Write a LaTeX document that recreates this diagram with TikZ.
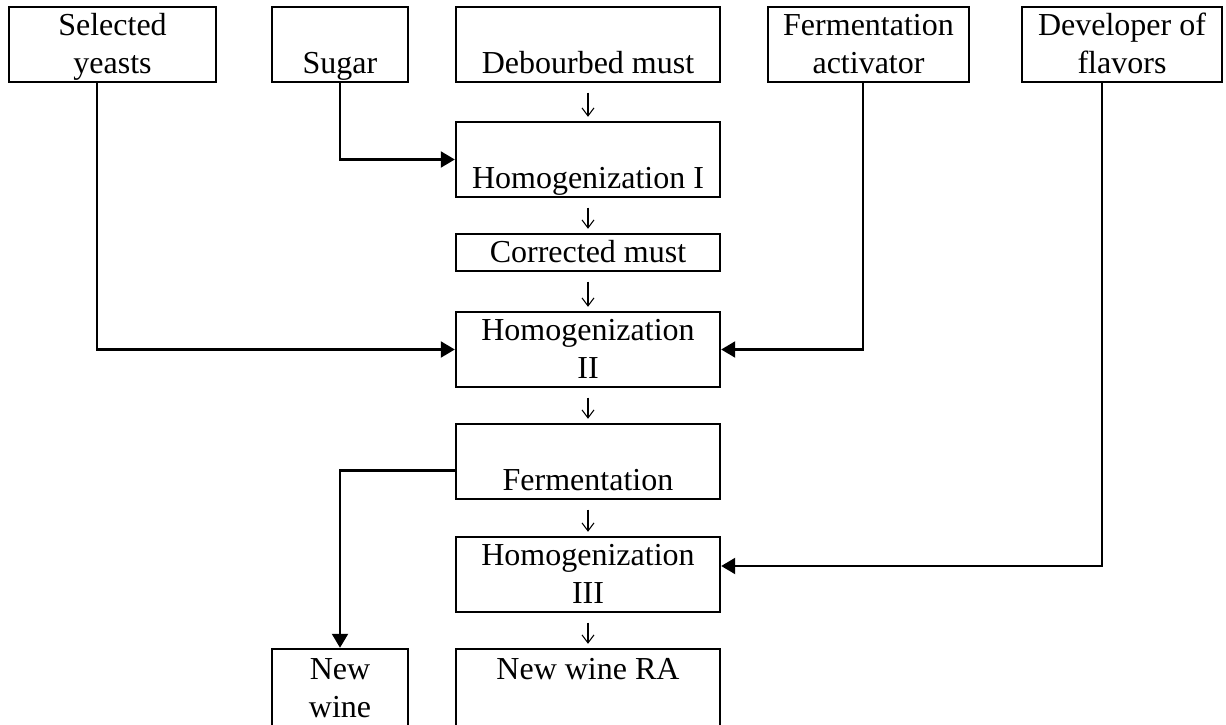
\documentclass[tikz,border=0pt]{standalone}
\usepackage{fontspec}
\setmainfont{Liberation Serif}
\usetikzlibrary{calc,arrows.meta}
\newcommand\rowstrut{\rule[-6.25pt]{0pt}{27.75pt}}

\begin{document}
\begin{tikzpicture}[x=.75pt,y=-.75pt,
	box/.style={draw,line width=1.8pt,inner xsep=2pt,inner ysep=0pt,align=center,
		font=\fontsize{24}{28.5}\selectfont,minimum height=56.25},
	flow/.style={line width=.8pt,-{Straight Barb[length=6pt,width=9pt]},shorten <=7pt,shorten >=3pt},
	feed/.style={line width=1.6pt,-{Triangle[length=10.5pt,width=12pt]}}]
	\useasboundingbox (0,0) rectangle (1226,724);
	\node[box,minimum width=155.25] (yeasts) at (112.5,44.5) {\rowstrut Selected\\\rowstrut yeasts};
	\node[box,minimum width=102] (sugar) at (340,44.5) {\rowstrut\\\rowstrut Sugar};
	\node[box,minimum width=198] (must) at (588,44.5) {\rowstrut\\\rowstrut Debourbed must};
	\node[box,minimum width=150.75] (activ) at (868.5,44.5) {\rowstrut Fermentation\\\rowstrut activator};
	\node[box,minimum width=150] (flav) at (1122,44.5) {\rowstrut Developer of\\\rowstrut flavors};
	\node[box,minimum width=198] (hom1) at (588,159.5) {\rowstrut\\\rowstrut Homogenization I};
	\node[box,minimum width=198,minimum height=27.75] (corr) at (588,252.5) {\rowstrut Corrected must};
	\node[box,minimum width=198] (hom2) at (588,349.5) {\rowstrut Homogenization\\\rowstrut II};
	\node[box,minimum width=198] (ferm) at (588,461.5) {\rowstrut\\\rowstrut Fermentation};
	\node[box,minimum width=198] (hom3) at (588,574.5) {\rowstrut Homogenization\\\rowstrut III};
	\node[box,minimum width=198,minimum height=58.5] (rawine) at (588,688) {\rowstrut New wine RA\\\rowstrut};
	\node[box,minimum width=102,minimum height=58.5] (newwine) at (340,688) {\rowstrut New\\\rowstrut wine};
	\foreach \a/\b in {must/hom1,hom1/corr,corr/hom2,hom2/ferm,ferm/hom3,hom3/rawine}
		\draw[flow] (\a) -- (\b);
	\draw[feed] (sugar.south) |- (hom1.west);
	\draw[feed] ($(yeasts.south)+(-15.5,0)$) |- (hom2.west);
	\draw[feed] ($(activ.south)+(-5.5,0)$) |- (hom2.east);
	\draw[feed] ($(flav.south)+(-20,0)$) |- ($(hom3.east)+(0,-8.5)$);
	\draw[feed] ($(ferm.west)+(0,9)$) -| (newwine.north);
\end{tikzpicture}
\end{document}
